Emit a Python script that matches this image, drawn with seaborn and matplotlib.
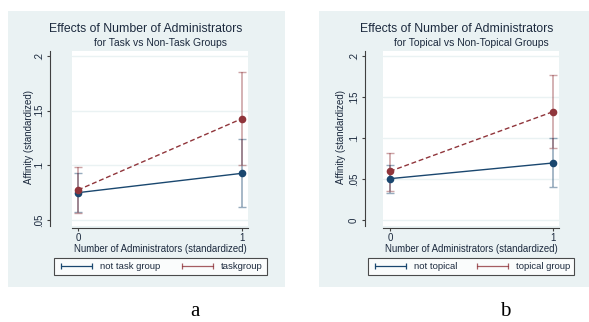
import matplotlib
matplotlib.use("Agg")
import matplotlib.pyplot as plt
from matplotlib.patches import Rectangle
from matplotlib.lines import Line2D
import numpy as np
import pandas as pd
import seaborn as sns

# ---- data -------------------------------------------------------------
admins = [0, 1]

# panel a: task vs non-task groups
a_not_task = [0.0750, 0.0927]
a_not_task_lo = [0.0570, 0.0616]
a_not_task_hi = [0.0927, 0.1238]
a_task = [0.0775, 0.1427]
a_task_lo = [0.0567, 0.1006]
a_task_hi = [0.0982, 0.1850]

# panel b: topical vs non-topical groups
b_not_topical = [0.0504, 0.0695]
b_not_topical_lo = [0.0333, 0.0399]
b_not_topical_hi = [0.0675, 0.1004]
b_topical = [0.0594, 0.1320]
b_topical_lo = [0.0357, 0.0874]
b_topical_hi = [0.0820, 0.1770]

a_yticks = [0.05, 0.10, 0.15, 0.20]
a_yticklabels = [".05", ".1", ".15", ".2"]
b_yticks = [0.0, 0.05, 0.10, 0.15, 0.20]
b_yticklabels = ["0", ".05", ".1", ".15", ".2"]

# ---- style ------------------------------------------------------------
sns.set_theme(style="white")
plt.rcParams["font.family"] = ["Liberation Sans", "DejaVu Sans"]

NAVY = "#1a476f"
MAROON = "#90353b"
PANEL_BG = "#eaf2f3"
TEXT = "#1c2a3e"

W, H = 589, 322
fig = plt.figure(figsize=(W / 100, H / 100), dpi=100)
fig.patch.set_facecolor("white")


def fx(px):
    return px / W


def fy(py):
    return 1 - py / H


def panel(box, axbox, ylim, xlim, yticks, yticklabels, yoffset,
          title, subtitle, title_x, sub_x, ylabel_x, xlabel_x,
          names, base, base_lo, base_hi, grp, grp_lo, grp_hi, legbox):
    # light backdrop of the whole graph region
    x0, y0, x1, y1 = box
    fig.patches.append(Rectangle((fx(x0), fy(y1)), fx(x1 - x0), (y1 - y0) / H,
                                 transform=fig.transFigure, facecolor=PANEL_BG,
                                 edgecolor="none", zorder=-10))
    l, t, r, b = axbox
    ax = fig.add_axes([fx(l), fy(b), fx(r - l), (b - t) / H])
    ax.set_zorder(1)
    ax.set_facecolor("white")

    df = pd.DataFrame({
        "admins": admins * 2,
        "affinity": base + grp,
        "group": [names[0]] * 2 + [names[1]] * 2,
    })

    # confidence intervals
    for vals, lo, hi, c in ((base, base_lo, base_hi, NAVY),
                            (grp, grp_lo, grp_hi, MAROON)):
        v = np.array(vals)
        err = np.vstack([v - np.array(lo), np.array(hi) - v])
        ax.errorbar(admins, v, yerr=err, fmt="none", ecolor=c, alpha=0.45,
                    elinewidth=1.2, capsize=3, capthick=1.0, zorder=2)

    sns.lineplot(data=df, x="admins", y="affinity", hue="group", style="group",
                 palette={names[0]: NAVY, names[1]: MAROON},
                 dashes={names[0]: "", names[1]: (3.5, 2)},
                 markers={names[0]: "o", names[1]: "o"},
                 markersize=5.5, markeredgewidth=0, linewidth=1.0,
                 legend=False, ax=ax, zorder=3)

    ax.set_xlim(*xlim)
    ax.set_ylim(*ylim)
    ax.set_xlabel("")
    ax.set_ylabel("")
    for s in ("top", "right"):
        ax.spines[s].set_visible(False)
    ax.spines["left"].set_position(("outward", yoffset))
    ax.spines["bottom"].set_position(("outward", 1.5))
    for s in ("left", "bottom"):
        ax.spines[s].set_color("#404040")
        ax.spines[s].set_linewidth(0.8)
    ax.tick_params(axis="both", length=2.5, width=0.8, color="#404040",
                   direction="out", left=True, bottom=True,
                   labelsize=7, labelcolor=TEXT)
    ax.tick_params(axis="x", pad=0.8)
    ax.tick_params(axis="y", pad=2)
    ax.set_xticks([0, 1], ["0", "1"])
    ax.set_yticks(yticks, yticklabels)
    for lab in ax.get_yticklabels():
        lab.set_rotation(90)
        lab.set_va("center")
        lab.set_ha("right")
    for yv in yticks:
        ax.axhline(yv, color=PANEL_BG, lw=1.0, zorder=1)

    fig.text(fx(title_x), fy(29), title, ha="center", va="center",
             fontsize=8.8, color=TEXT)
    fig.text(fx(sub_x), fy(43), subtitle, ha="center", va="center",
             fontsize=7.5, color=TEXT)
    fig.text(fx(ylabel_x), fy(137), "Affinity (standardized)", ha="center",
             va="center", rotation=90, fontsize=7, color=TEXT)
    fig.text(fx(xlabel_x), fy(249.5), "Number of Administrators (standardized)",
             ha="center", va="center", fontsize=6.9, color=TEXT)

    handles = [Line2D([], [], color=NAVY, lw=0.9, marker="|", markersize=4,
                      markeredgewidth=0.9),
               Line2D([], [], color=MAROON, lw=0.9, marker="|", markersize=4,
                      markeredgewidth=0.9, alpha=0.8)]
    lx0, ly0, lx1, ly1 = legbox
    leg = fig.legend(handles, names, ncol=2, numpoints=2, mode="expand",
                     bbox_to_anchor=(fx(lx0), fy(ly1), fx(lx1 - lx0),
                                     (ly1 - ly0) / H),
                     loc="center", fontsize=6.8, handlelength=3.9,
                     handletextpad=0.5, columnspacing=1.5, borderpad=0.45,
                     fancybox=False, frameon=True, borderaxespad=0)
    leg.get_frame().set_edgecolor("#202020")
    leg.get_frame().set_linewidth(0.8)
    for txt in leg.get_texts():
        txt.set_color(TEXT)
    return ax


panel(box=(8, 11, 285, 287), axbox=(72, 51, 248, 226),
      ylim=(0.0445, 0.2046), xlim=(-0.037, 1.037),
      yticks=a_yticks, yticklabels=a_yticklabels, yoffset=15.8,
      title="Effects of Number of Administrators",
      subtitle="for Task vs Non-Task Groups",
      title_x=146, sub_x=160, ylabel_x=29, xlabel_x=160,
      names=["not task group", "taskgroup"],
      base=a_not_task, base_lo=a_not_task_lo, base_hi=a_not_task_hi,
      grp=a_task, grp_lo=a_task_lo, grp_hi=a_task_hi,
      legbox=(54, 257, 267, 276))

panel(box=(319, 11, 589, 287), axbox=(383, 51, 559, 226),
      ylim=(-0.0073, 0.206), xlim=(-0.043, 1.037),
      yticks=b_yticks, yticklabels=b_yticklabels, yoffset=13.0,
      title="Effects of Number of Administrators",
      subtitle="for Topical vs Non-Topical Groups",
      title_x=457, sub_x=471, ylabel_x=341, xlabel_x=471,
      names=["not topical", "topical group"],
      base=b_not_topical, base_lo=b_not_topical_lo, base_hi=b_not_topical_hi,
      grp=b_topical, grp_lo=b_topical_lo, grp_hi=b_topical_hi,
      legbox=(368, 257, 574, 276))

fig.text(fx(195), fy(311), "a", ha="center", va="center", fontsize=15,
         family="Liberation Serif", color="black")
fig.text(fx(505), fy(311), "b", ha="center", va="center", fontsize=15,
         family="Liberation Serif", color="black")

fig.savefig("out.png", dpi=100, facecolor="white")
